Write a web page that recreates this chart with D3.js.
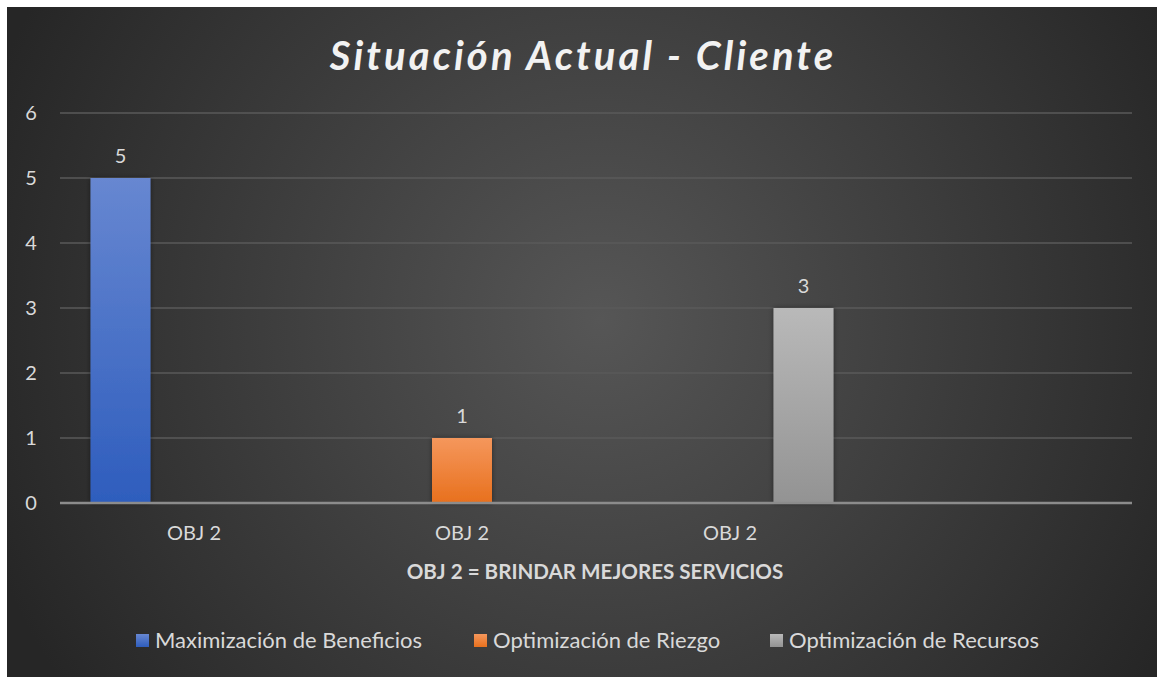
<!DOCTYPE html>
<html>
<head>
<meta charset="utf-8">
<script src="https://cdn.jsdelivr.net/npm/d3@7"></script>
<style>
  html, body { margin: 0; padding: 0; background: #ffffff; }
  svg { display: block; }
  text { font-family: Lato, "Open Sans", sans-serif; }
</style>
</head>
<body>
<svg id="chart" width="1159" height="677"></svg>
<script>
// Chart data
const title = "Situación Actual - Cliente";
const axisTitle = "OBJ 2 = BRINDAR MEJORES SERVICIOS";
const categories = ["OBJ 2", "OBJ 2", "OBJ 2", ""];
const seriesNames = ["Maximización de Beneficios", "Optimización de Riezgo", "Optimización de Recursos"];
const maximizacion = [5, null, null, null];
const riezgo = [null, 1, null, null];
const recursos = [null, null, 3, null];
const yTicks = [0, 1, 2, 3, 4, 5, 6];

const seriesValues = [maximizacion, riezgo, recursos];
const seriesColors = [
  { top: "#6787d1", bottom: "#2e5dbd" },
  { top: "#f5975c", bottom: "#e8701d" },
  { top: "#b9b9b9", bottom: "#939393" }
];

const W = 1159, H = 677;
const svg = d3.select("#chart");
const defs = svg.append("defs");

// Background: dark radial fill
const bg = defs.append("radialGradient").attr("id", "bg")
  .attr("gradientUnits", "userSpaceOnUse")
  .attr("cx", 600).attr("cy", 320).attr("r", 650);
bg.append("stop").attr("offset", "0").attr("stop-color", "#565656");
bg.append("stop").attr("offset", "1").attr("stop-color", "#262626");

seriesColors.forEach((c, i) => {
  const g = defs.append("linearGradient").attr("id", "bar" + i)
    .attr("x1", 0).attr("y1", 0).attr("x2", 0).attr("y2", 1);
  g.append("stop").attr("offset", "0").attr("stop-color", c.top);
  g.append("stop").attr("offset", "1").attr("stop-color", c.bottom);
});

const shadow = defs.append("filter").attr("id", "shadow")
  .attr("x", "-20%").attr("y", "-20%").attr("width", "140%").attr("height", "140%");
shadow.append("feDropShadow").attr("dx", 0).attr("dy", 0).attr("stdDeviation", 2.5)
  .attr("flood-color", "#000").attr("flood-opacity", 0.45);

svg.append("rect").attr("x", 7).attr("y", 7).attr("width", W - 9).attr("height", H - 7)
  .attr("fill", "url(#bg)");

// Title
svg.append("text")
  .attr("x", 583).attr("y", 70)
  .attr("text-anchor", "middle")
  .attr("fill", "#f2f2f2")
  .style("font-size", "40px").style("font-weight", "bold").style("font-style", "italic")
  .style("letter-spacing", "3.1px")
  .text(title);

// Scales
const plot = { left: 60, right: 1132, top: 113, bottom: 503 };
const x = d3.scaleBand().domain(d3.range(categories.length))
  .range([plot.left, plot.right]).padding(0);
const xs = d3.scaleBand().domain(d3.range(seriesNames.length))
  .range([0, x.bandwidth()]).paddingInner(0.184).paddingOuter(0.415);
const y = d3.scaleLinear().domain([0, 6]).range([plot.bottom, plot.top]);

// Gridlines
svg.append("g").selectAll("line").data(yTicks.filter(t => t > 0)).join("line")
  .attr("x1", plot.left).attr("x2", plot.right)
  .attr("y1", d => y(d)).attr("y2", d => y(d))
  .attr("stroke", "#5a5a5a").attr("stroke-width", 1.5);

// Y axis labels
const yAxis = svg.append("g").attr("transform", `translate(${plot.left},0)`)
  .call(d3.axisLeft(y).tickValues(yTicks).tickFormat(d3.format("d")).tickSize(0).tickPadding(29));
yAxis.select(".domain").remove();
yAxis.selectAll("text").attr("fill", "#d9d9d9").style("font-size", "20px")
  .attr("text-anchor", "middle");

// Bars
const barData = [];
seriesValues.forEach((vals, s) => vals.forEach((v, c) => {
  if (v != null) barData.push({ s, c, v });
}));

svg.append("g").selectAll("rect").data(barData).join("rect")
  .attr("x", d => x(d.c) + xs(d.s))
  .attr("y", d => y(d.v))
  .attr("width", xs.bandwidth())
  .attr("height", d => y(0) - y(d.v))
  .attr("fill", d => `url(#bar${d.s})`)
  .attr("filter", "url(#shadow)");

// Value labels
svg.append("g").selectAll("text").data(barData).join("text")
  .attr("x", d => x(d.c) + xs(d.s) + xs.bandwidth() / 2)
  .attr("y", d => y(d.v) - 15)
  .attr("text-anchor", "middle")
  .attr("fill", "#d9d9d9").style("font-size", "20px")
  .text(d => d.v);

// Zero baseline
svg.append("line").attr("x1", plot.left).attr("x2", plot.right)
  .attr("y1", y(0)).attr("y2", y(0))
  .attr("stroke", "#8c8c8c").attr("stroke-width", 2.5);

// Category labels
const xAxis = svg.append("g").attr("transform", `translate(0,${plot.bottom})`)
  .call(d3.axisBottom(x).tickFormat(i => categories[i]).tickSize(0).tickPadding(23));
xAxis.select(".domain").remove();
xAxis.selectAll("text").attr("fill", "#d9d9d9").style("font-size", "20px");

// Axis title
svg.append("text")
  .attr("x", 595).attr("y", 579)
  .attr("text-anchor", "middle")
  .attr("fill", "#d9d9d9")
  .style("font-size", "20.6px").style("font-weight", "bold")
  .text(axisTitle);

// Legend
const legendX = [136, 474, 770];
const legend = svg.append("g").selectAll("g").data(seriesNames).join("g")
  .attr("transform", (d, i) => `translate(${legendX[i]},634)`);
legend.append("rect").attr("x", 0).attr("y", 0).attr("width", 13).attr("height", 13)
  .attr("fill", (d, i) => `url(#bar${i})`);
legend.append("text").attr("x", 19).attr("y", 14)
  .attr("fill", "#d9d9d9").style("font-size", "22px")
  .text(d => d);
</script>
</body>
</html>
